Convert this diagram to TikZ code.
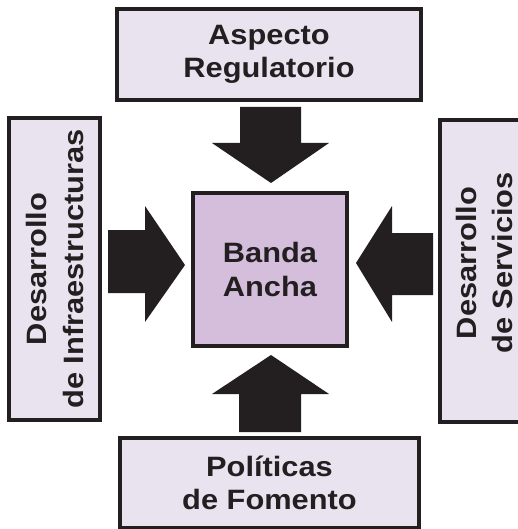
\documentclass[tikz,border=0pt]{standalone}
\usepackage{fontspec}
\setmainfont{Liberation Sans}[FakeStretch=1.1]
\definecolor{ink}{HTML}{231F20}
\definecolor{pale}{HTML}{E9E3F0}
\definecolor{lilac}{HTML}{D5BEDC}
\begin{document}
\begin{tikzpicture}[x=1pt,y=-1pt,
  box/.style={draw=ink, line width=3.5pt, fill=pale, inner sep=0pt, text=ink,
    font=\bfseries\fontsize{28}{33.5}\selectfont, align=center},
  core/.style={box, fill=lilac},
  vbox/.style={box, rotate=90, font=\bfseries\fontsize{28}{37}\selectfont},
  lbl/.style={text=ink, font=\bfseries\fontsize{28}{36}\selectfont, align=center, inner sep=0pt},
  blockarrow/.style={fill=ink}]
\useasboundingbox (0,0) rectangle (517,529);
% boxes
\node[box, minimum width=304, minimum height=91] (reg) at (269,54.5) {Aspecto\\Regulatorio};
\node[core, minimum width=154, minimum height=153] (core) at (270,269.5) {Banda\\Ancha};
\node[box, minimum width=299, minimum height=90] (fom) at (269.5,483) {Políticas\\de Fomento};
\node[vbox, minimum width=302, minimum height=91] (infra) at (54.5,269) {Desarrollo\\de Infraestructuras};
\node[vbox, minimum width=302, minimum height=106] (serv) at (493,271) {};
\node[lbl, rotate=90] (servtxt) at (484,263) {Desarrollo\\de Servicios};
% block arrows
\fill[blockarrow] (240,107) -- (301,107) -- (301,143) -- (329,143) -- (271,183) -- (212,143) -- (240,143) -- cycle;
\fill[blockarrow] (239,432) -- (301,432) -- (301,394) -- (329,394) -- (271,355) -- (212,394) -- (239,394) -- cycle;
\fill[blockarrow] (108,230) -- (145,230) -- (145,206) -- (185,265) -- (145,322) -- (145,293) -- (108,293) -- cycle;
\fill[blockarrow] (433,233) -- (392,233) -- (392,206) -- (356,263) -- (392,322) -- (392,295) -- (433,295) -- cycle;
\end{tikzpicture}
\end{document}
